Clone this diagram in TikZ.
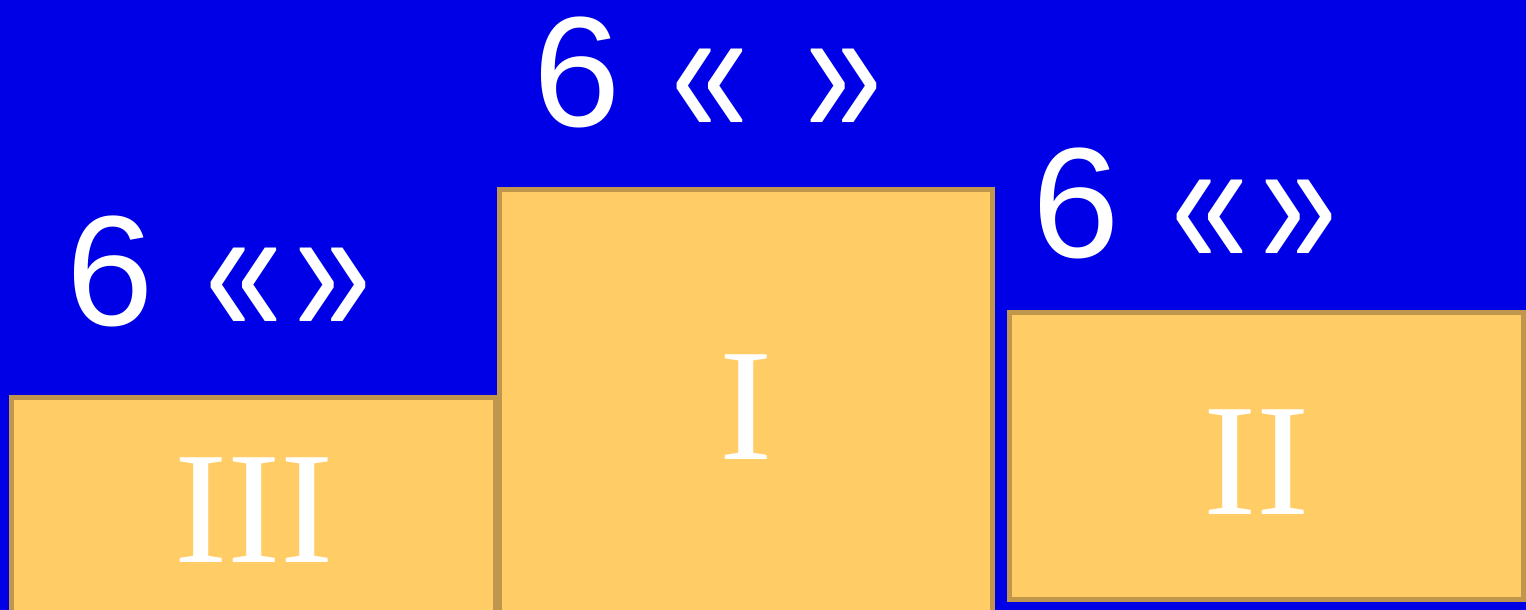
\documentclass[tikz,border=0pt]{standalone}
\usepackage{fontspec}
\setmainfont{Liberation Serif}
\newfontfamily\labfont{Liberation Sans}
\definecolor{bgblue}{HTML}{0000E6}
\definecolor{podfill}{HTML}{FFCC66}
\definecolor{podline}{HTML}{BF964C}
\newcommand{\gq}[1]{\raisebox{-9.4pt}{\scalebox{0.88}[1.2]{#1}}}
\tikzset{
  podium/.style={fill=podfill, draw=podline, line width=5pt},
  lab/.style={text=white, inner sep=0pt, anchor=base, font=\labfont\fontsize{157}{160}\selectfont},
  rank/.style={text=white, inner sep=0pt, anchor=base, font=\fontsize{160}{165}\selectfont}
}
\begin{document}
\begin{tikzpicture}[x=1pt,y=-1pt]
\fill[bgblue] (0,0) rectangle (1526,610);
\useasboundingbox (0,0) rectangle (1526,610);
\begin{scope}
\clip (0,0) rectangle (1526,610);
\draw[podium] (11.5,397.5) rectangle (495.5,640);
\draw[podium] (499.5,189.5) rectangle (992.5,640);
\draw[podium] (1009.5,312.5) rectangle (1523.5,599.5);
\end{scope}
% ranks
\node[rank] (r3) at (254,562) {III};
\node[rank] (r1) at (746,459) {I};
\node[rank] (r2) at (1256.5,514) {II};
% top label
\node[lab] (t6) at (577,126) {6};
\node[lab] (tl) at (710,126) {\gq{«}};
\node[lab] (tr) at (843.5,126) {\gq{»}};
% left label
\node[lab] (l6) at (110,325) {6};
\node[lab] (ll) at (243.5,325) {\gq{«}};
\node[lab] (lr) at (333,325) {\gq{»}};
% right label
\node[lab] (g6) at (1076.5,257) {6};
\node[lab] (gl) at (1210,257) {\gq{«}};
\node[lab] (gr) at (1299,257) {\gq{»}};
\end{tikzpicture}
\end{document}
